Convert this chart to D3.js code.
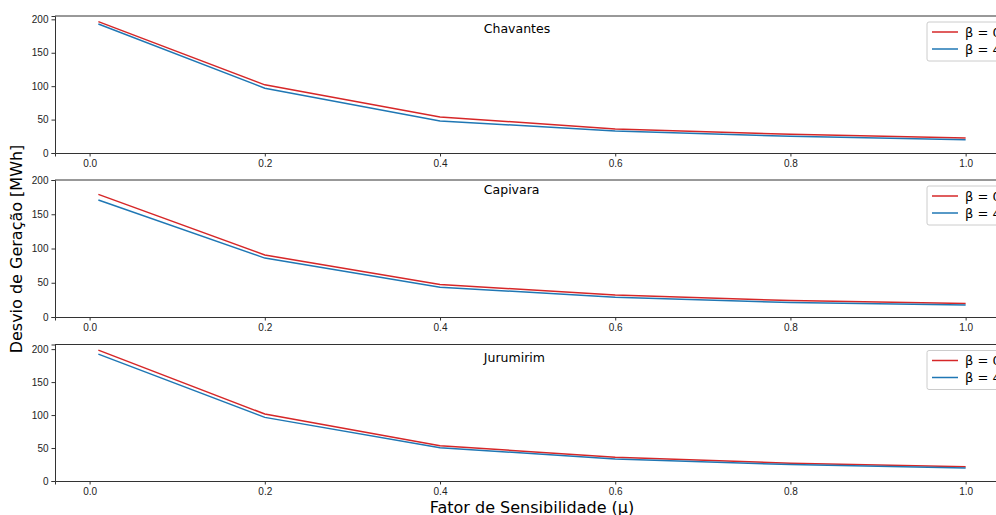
<!DOCTYPE html>
<html>
<head>
<meta charset="utf-8">
<style>
  body { margin: 0; background: #fff; }
  svg { display: block; font-family: "DejaVu Sans", sans-serif; }
  .tick text { font-size: 10px; fill: #222; }
  .tick line, .domain { stroke: #333; }
</style>
<script src="https://d3js.org/d3.v7.min.js"></script>
</head>
<body>
<svg width="996" height="515"></svg>
<script>

var mu = [0.01, 0.2, 0.4, 0.6, 0.8, 1.0];
var plants = ["Chavantes", "Capivara", "Jurumirim"];
var seriesNames = ["β = 0", "β = 4"];

// [beta0, beta4] per plant
var chavantes = [[196.6, 102, 54, 36, 28, 22.5], [193, 97, 48, 33, 25, 20]];
var capivara = [[179, 90.5, 47.5, 32, 24, 19.6], [170.7, 86, 43.5, 29, 21, 17.6]];
var jurumirim = [[198.5, 101.5, 53.5, 36, 27, 21.7], [192.4, 96.5, 50.5, 33.3, 25, 19.7]];
var values = [chavantes, capivara, jurumirim];

var yTop = [205, 200, 207];
var yTicks = [0, 50, 100, 150, 200];
var xTicks = [0.0, 0.2, 0.4, 0.6, 0.8, 1.0];
var colors = ["#d62728", "#1f77b4"];

var svg = d3.select("svg");
var left = 55, right = 1009;
var panels = [{top: 16, bottom: 153}, {top: 180, bottom: 317}, {top: 344.5, bottom: 481}];

var x = d3.scaleLinear().domain([-0.0395, 1.0495]).range([left, right]);

panels.forEach(function (p, i) {
	var y = d3.scaleLinear().domain([0, yTop[i]]).range([p.bottom, p.top]);
	var g = svg.append("g");

	g.append("g")
	.attr("transform", "translate(0," + p.bottom + ")")
	.call(d3.axisBottom(x).tickValues(xTicks).tickFormat(d3.format(".1f")).tickSizeOuter(0).tickSize(3.5).tickPadding(3));

	g.append("g")
	.attr("transform", "translate(" + left + ",0)")
	.call(d3.axisLeft(y).tickValues(yTicks).tickSizeOuter(0).tickSize(3.5).tickPadding(3));

	g.append("line")
	.attr("x1", left).attr("x2", right)
	.attr("y1", p.top).attr("y2", p.top)
	.attr("stroke", "#333");
	g.append("line")
	.attr("x1", right).attr("x2", right)
	.attr("y1", p.top).attr("y2", p.bottom)
	.attr("stroke", "#333");

	var line = d3.line()
		.x(function (d, j) { return x(mu[j]); })
		.y(function (d) { return y(d); });

	values[i].forEach(function (s, k) {
		g.append("path")
		.datum(s)
		.attr("fill", "none")
		.attr("stroke", colors[k])
		.attr("stroke-width", 1.5)
		.attr("d", line);
	});

	g.append("text")
	.attr("x", x(0.45))
	.attr("y", y(180))
	.attr("font-size", 12.5)
	.attr("fill", "#000")
	.text(plants[i]);

	// legend
	var lg = g.append("g").attr("transform", "translate(927," + (p.top + 6) + ")");
	lg.append("rect")
	.attr("width", 76).attr("height", 39)
	.attr("rx", 2)
	.attr("fill", "#fff")
	.attr("stroke", "#ccc");
	seriesNames.forEach(function (n, k) {
		lg.append("line")
		.attr("x1", 5).attr("x2", 31)
		.attr("y1", 10 + k * 17).attr("y2", 10 + k * 17)
		.attr("stroke", colors[k])
		.attr("stroke-width", 1.5);
		lg.append("text")
		.attr("x", 38).attr("y", 10 + k * 17)
		.attr("dy", "0.35em")
		.attr("font-size", 13)
		.text(n);
	});
});

svg.append("text")
	.attr("transform", "translate(22,249) rotate(-90)")
	.attr("text-anchor", "middle")
	.attr("font-size", 16)
	.text("Desvio de Geração [MWh]");

svg.append("text")
	.attr("x", 532)
	.attr("y", 513)
	.attr("text-anchor", "middle")
	.attr("font-size", 16)
	.text("Fator de Sensibilidade (μ)");

</script>
</body>
</html>
